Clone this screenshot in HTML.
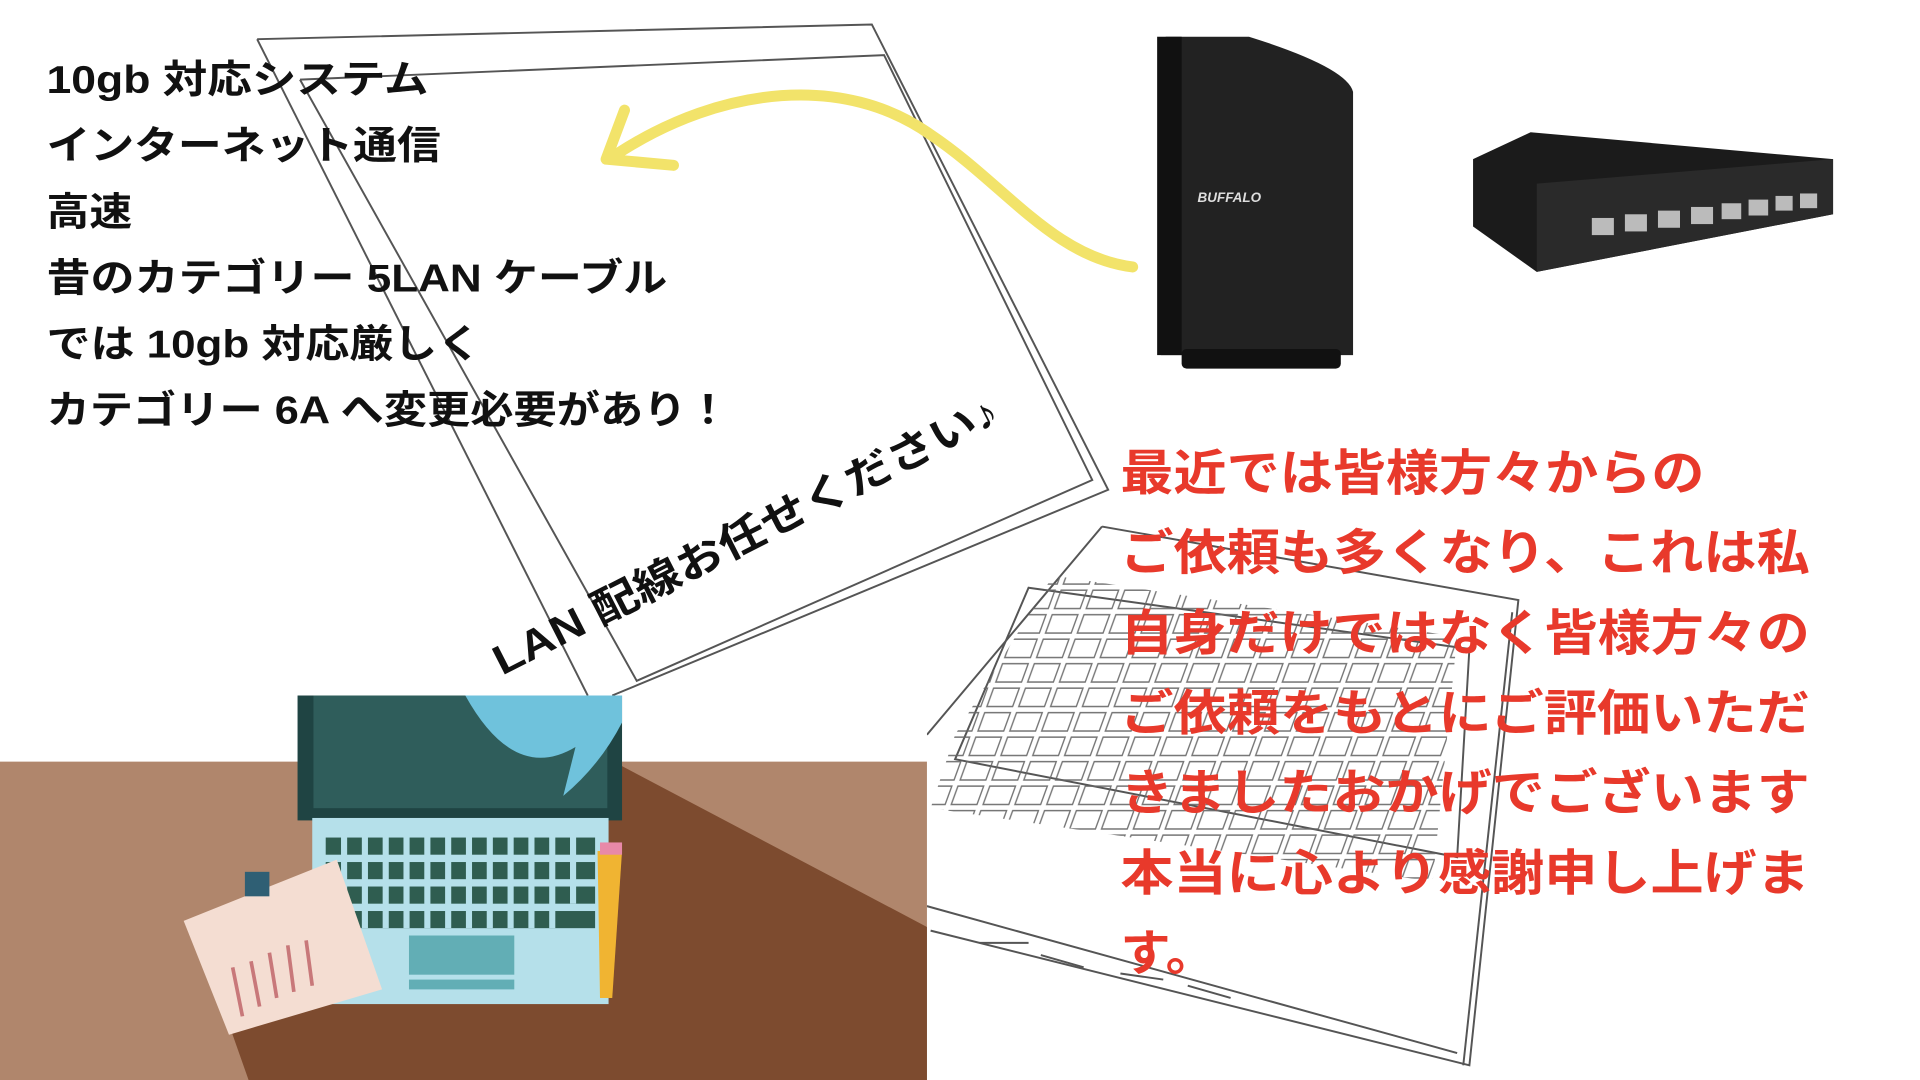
<!DOCTYPE html>
<html><head><meta charset="utf-8"><style>
html,body{margin:0;padding:0;background:#fff;width:1920px;height:1080px;overflow:hidden}
svg{display:block}
text{font-family:"Liberation Sans","Noto Sans CJK JP",sans-serif;font-weight:bold}
</style></head><body>
<svg width="1920" height="1080" viewBox="0 0 1568 882" xmlns="http://www.w3.org/2000/svg">
<defs>
<pattern id="kb" width="26" height="20" patternUnits="userSpaceOnUse" patternTransform="skewX(-20)">
<rect x="2" y="2" width="21" height="15" fill="none" stroke="#666" stroke-width="1.2"/>
</pattern>
</defs>
<rect width="1568" height="882" fill="#fff"/>
<g fill="none" stroke="#555" stroke-width="1.6">
<path d="M210 32 L712 20 L905 400 L500 568"/>
<path d="M210 32 L480 568"/>
<path d="M245 65 L722 45 L892 392 L520 556 L245 65"/>
<path d="M900 430 L1240 490 L1200 870 L760 760"/>
<path d="M757 600 L900 430"/>
<path d="M840 480 L1200 530 L1190 700 L780 620 Z"/>
<path d="M1195 870 L1235 500"/>
<path d="M757 740 L1190 860"/>
<path d="M800 770 L840 770 M850 780 L885 790 M915 795 L950 800 M970 805 L1005 815"/>
</g>
<path d="M780 600 L860 470 L1190 520 L1170 720 L760 660 Z" fill="url(#kb)" opacity="0.9"/>
<rect x="0" y="568" width="757" height="314" fill="#fff"/>
<rect x="0" y="622" width="757" height="260" fill="#b0866c"/>
<polygon points="501,622 757,757 757,882 203,882 160,760 300,700" fill="#7d4b2f"/>
<rect x="243" y="568" width="265" height="102" fill="#1f4443"/>
<rect x="256" y="568" width="240" height="92" fill="#2f5d5b"/>
<path d="M380 568 Q420 640 470 610 L460 650 Q490 625 508 590 L508 568 Z" fill="#6fc2dc"/>
<rect x="255" y="668" width="242" height="152" fill="#b5e0ea"/>
<g fill="#2f5d50">
<rect x="266" y="684" width="220" height="14"/><rect x="266" y="704" width="220" height="14"/><rect x="266" y="724" width="220" height="14"/><rect x="266" y="744" width="220" height="14"/>
</g>
<g stroke="#b5e0ea" stroke-width="5">
<path d="M281 684V758M298 684V758M315 684V758M332 684V758M349 684V758M366 684V758M383 684V758M400 684V758M417 684V758M434 684V758M451 684V758M468 684V738"/>
</g>
<rect x="334" y="764" width="86" height="32" fill="#62aeb5"/>
<rect x="334" y="800" width="86" height="8" fill="#62aeb5"/>
<polygon points="488,695 508,695 500,815 490,815" fill="#f0b432"/>
<rect x="490" y="688" width="18" height="10" fill="#e889a8"/>
<polygon points="150,752 275,702 312,808 187,845" fill="#f4ddd2"/>
<rect x="200" y="712" width="20" height="20" fill="#2f5f74"/>
<g stroke="#c8787a" stroke-width="3"><path d="M190 790L198 830M205 785L212 822M220 778L226 815M235 772L240 810M250 768L255 805"/></g>
<path d="M952 30 L1020 30 Q1100 55 1105 75 L1105 290 L948 290 Z" fill="#222"/>
<rect x="945" y="30" width="20" height="260" fill="#111"/>
<rect x="965" y="285" width="130" height="16" rx="4" fill="#111"/>
<text x="978" y="165" font-size="11" fill="#ddd" font-style="italic">BUFFALO</text>
<polygon points="1203,130 1250,108 1497,130 1497,175 1255,222 1203,185" fill="#1b1b1b"/>
<polygon points="1255,150 1497,130 1497,175 1255,222" fill="#2a2a2a"/>
<g fill="#bbb"><rect x="1300" y="178" width="18" height="14"/><rect x="1327" y="175" width="18" height="14"/><rect x="1354" y="172" width="18" height="14"/><rect x="1381" y="169" width="18" height="14"/><rect x="1406" y="166" width="16" height="13"/><rect x="1428" y="163" width="16" height="13"/><rect x="1450" y="160" width="14" height="12"/><rect x="1470" y="158" width="14" height="12"/></g>
<path d="M925 218 C860 210 820 150 760 110 C690 60 590 70 505 125" fill="none" stroke="#f2e36a" stroke-width="9" stroke-linecap="round"/>
<path d="M510 90 L495 130 L550 135" fill="none" stroke="#f2e36a" stroke-width="9" stroke-linecap="round" stroke-linejoin="round"/>
<g font-size="32" fill="#111" lengthAdjust="spacingAndGlyphs">
<text x="38" y="76" textLength="312" lengthAdjust="spacingAndGlyphs">10gb 対応システム</text>
<text x="38" y="130" textLength="322" lengthAdjust="spacingAndGlyphs">インターネット通信</text>
<text x="38" y="184" textLength="70" lengthAdjust="spacingAndGlyphs">高速</text>
<text x="38" y="238" textLength="507" lengthAdjust="spacingAndGlyphs">昔のカテゴリー 5LAN ケーブル</text>
<text x="38" y="292" textLength="355" lengthAdjust="spacingAndGlyphs">では 10gb 対応厳しく</text>
<text x="38" y="346" textLength="558" lengthAdjust="spacingAndGlyphs">カテゴリー 6A へ変更必要があり！</text>
</g>
<text x="0" y="0" font-size="34" fill="#111" textLength="458" lengthAdjust="spacingAndGlyphs" transform="translate(410,552) rotate(-27)">LAN 配線お任せください♪</text>
<g font-size="40" fill="#e8392b">
<text x="915" y="400" textLength="477" lengthAdjust="spacingAndGlyphs">最近では皆様方々からの</text>
<text x="915" y="465" textLength="563" lengthAdjust="spacingAndGlyphs">ご依頼も多くなり、これは私</text>
<text x="915" y="531" textLength="563" lengthAdjust="spacingAndGlyphs">自身だけではなく皆様方々の</text>
<text x="915" y="596" textLength="563" lengthAdjust="spacingAndGlyphs">ご依頼をもとにご評価いただ</text>
<text x="915" y="661" textLength="563" lengthAdjust="spacingAndGlyphs">きましたおかげでございます</text>
<text x="915" y="727" textLength="563" lengthAdjust="spacingAndGlyphs">本当に心より感謝申し上げま</text>
<text x="915" y="792" textLength="78" lengthAdjust="spacingAndGlyphs">す。</text>
</g>
</svg>
</body></html>
